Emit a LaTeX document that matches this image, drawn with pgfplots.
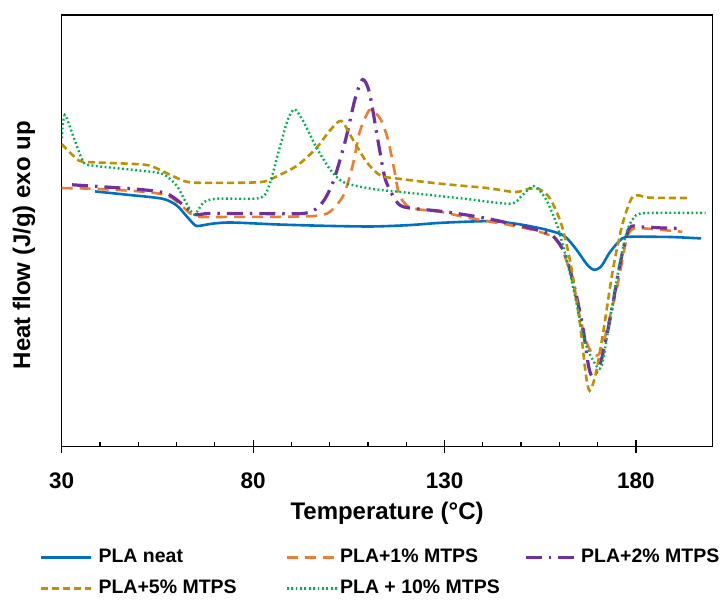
\documentclass[border=0pt]{standalone}
\usepackage{fontspec}
\setmainfont{Liberation Sans}
\usepackage{pgfplots}
\pgfplotsset{compat=1.18}
\definecolor{cblue}{HTML}{0070C0}
\definecolor{corange}{HTML}{ED7D31}
\definecolor{cpurple}{HTML}{7030A0}
\definecolor{cgold}{HTML}{BF9000}
\definecolor{cgreen}{HTML}{00B050}
\begin{document}
\begin{tikzpicture}
\begin{axis}[
  width=651pt, height=431.7pt, scale only axis,
  xmin=30, xmax=200, ymin=-1.1, ymax=129.3,
  xtick={30,80,130,180}, minor x tick num=4,
  ytick=\empty, xtick pos=bottom,
  tick align=inside, major tick length=13pt, minor tick length=5pt,
  major tick style={yshift=-6.5pt},
  every tick/.style={black, line width=1.2pt},
  axis line style={black, line width=1.6pt},
  /pgf/number format/assume math mode=true,
  xticklabel style={font=\fontsize{22.5}{26}\selectfont\bfseries, inner sep=0pt, anchor=north, yshift=-26pt},
  xlabel={Temperature (°C)},
  xlabel style={font=\fontsize{24}{28}\selectfont\bfseries, inner sep=0pt, at={(axis description cs:0.5,0)}, anchor=north, yshift=-55pt},
  ylabel={Heat flow (J/g) exo up},
  ylabel style={font=\fontsize{24}{28}\selectfont\bfseries, at={(axis description cs:-0.058,0.467)}, anchor=center},
  legend columns=3,
  legend cell align=left,
  legend style={draw=none, fill=none, at={(rel axis cs:0,0)}, anchor=north west,
    xshift=-21.7pt, yshift=-102pt, inner sep=0pt, outer sep=0pt,
    font=\fontsize{19.5}{23}\selectfont\bfseries, row sep=13pt, column sep=0pt,
    nodes={inner sep=0pt, text height=14pt, text depth=4pt}},
  legend image code/.code={\draw[#1] (0pt,0pt) -- (50pt,0pt);},
  smooth, tension=0.45,
]
\addplot[cblue, line width=2.6pt] coordinates {
(38.7,76.0)(47,75.0)(56.3,73.8)(60,71.8)(62.4,68.8)(64.8,65.8)(66,65.6)(69.7,66.3)(74.5,66.6)(86.6,66.0)(98.8,65.6)(110.9,65.4)(120.6,65.8)(129,66.5)(140,67.0)(144.8,66.8)(150.9,65.8)(157,64.3)(161.2,62.6)(164.2,58.8)(167.3,53.8)(169.1,52.3)(170.9,53.3)(173.3,57.8)(176.4,61.8)(178.8,62.3)(183.6,62.3)(189.7,62.2)(197,61.8)};
\addlegendentry{\makebox[193pt][l]{\hspace{6pt}PLA neat}}
\addplot[corange, line width=2.6pt, dash pattern=on 11pt off 7pt] coordinates {
(30,77.0)(38.1,76.8)(50.3,76.0)(57.5,74.8)(61.2,71.8)(63.6,69.3)(66,68.3)(74.5,68.3)(86.6,68.3)(96.3,68.6)(100,69.8)(103.6,74.8)(106,83.8)(107.8,93.8)(109.7,99.3)(110.9,100.8)(113.3,97.8)(115.2,91.8)(117,81.8)(118.2,74.8)(120.6,71.3)(123,70.6)(129.1,69.8)(135.1,68.3)(141.2,67.0)(147.2,65.8)(153.3,64.3)(158.2,62.3)(160.6,58.8)(163,50.8)(165.4,37.8)(167.3,29.8)(169.1,26.3)(170.9,27.8)(172.7,35.8)(175.2,47.8)(177.6,61.8)(179.4,64.8)(182.4,64.8)(187.3,64.3)(192.1,63.8)};
\addlegendentry{\makebox[186pt][l]{\hspace{2pt}PLA+1\% MTPS}}
\addplot[cpurple, line width=3.2pt, dash pattern=on 16pt off 7pt on 2.5pt off 7pt] coordinates {
(32.7,78.0)(50.3,76.6)(57.5,75.3)(62.4,71.3)(64.8,69.0)(68.4,69.3)(80.6,69.3)(92.7,69.3)(96.3,70.6)(98.8,73.8)(101.2,79.8)(104.2,91.8)(106.6,103.8)(108.6,109.8)(110.4,105.8)(112.7,90.8)(114.5,79.8)(117,73.8)(119.4,71.3)(129.1,70.0)(135.1,69.0)(141.2,67.8)(147.2,66.3)(153.3,64.6)(158.2,62.6)(161.2,57.8)(163.6,48.8)(166,35.8)(167.7,22.8)(168.9,20.0)(170.9,24.8)(173.3,37.8)(175.8,53.8)(178.2,64.8)(181.2,65.3)(186.1,65.0)(191.5,64.8)};
\addlegendentry{\hspace{4pt}PLA+2\% MTPS}
\addplot[cgold, line width=2.6pt, dash pattern=on 7pt off 4pt] coordinates {
(30,90.3)(34.5,85.3)(38.1,84.8)(51.5,84.1)(55.1,82.8)(58.7,80.8)(62.4,79.0)(66,78.6)(81.8,78.8)(86.6,80.8)(91.5,83.8)(96.3,88.8)(100,94.3)(103,97.3)(106,91.8)(109.7,84.8)(113.3,80.8)(118.2,79.8)(129.1,78.3)(141.2,77.0)(148.5,75.8)(152.1,76.8)(154.6,76.8)(157.6,73.8)(160.6,65.8)(163,53.8)(165.4,35.8)(166.9,20.8)(167.9,15.8)(169.5,20.8)(171.5,33.8)(173.9,51.8)(176.4,65.8)(178.8,73.8)(180.6,74.8)(183.6,74.1)(193.3,74.0)};
\addlegendentry{\makebox[193pt][l]{\hspace{6pt}PLA+5\% MTPS}}
\addplot[cgreen, line width=2.4pt, dash pattern=on 1.8pt off 2.6pt] coordinates {
(30,92.1)(30.8,99.1)(33.3,91.8)(35.7,84.8)(38.1,83.8)(50.3,82.3)(56.3,81.3)(60,77.8)(62.4,72.8)(64.6,69.0)(67.2,72.8)(70.9,73.8)(81.8,74.0)(84.2,77.8)(86.6,87.8)(89.1,97.8)(90.9,100.8)(93.3,96.8)(96.3,89.8)(100,82.8)(103.6,78.8)(110.9,76.8)(123,75.3)(135.1,73.8)(147.2,72.3)(150.3,74.8)(153.3,77.6)(156.4,73.8)(159.4,65.8)(161.8,55.8)(164.2,43.8)(166.6,30.8)(169.1,24.3)(170.9,22.8)(172.7,33.8)(175.2,50.8)(177.6,63.8)(180,68.8)(183.6,69.5)(198.2,69.5)};
\addlegendentry{\hspace{2pt}PLA + 10\% MTPS}
\coordinate (BL) at (rel axis cs:0,0);
\coordinate (TR) at (rel axis cs:1,1);
\end{axis}
\path (BL) ++(-61.7pt,-158.3pt) coordinate (bba);
\path (TR) ++(15.5pt,15pt) coordinate (bbb);
\path (bba) rectangle (bbb);
\end{tikzpicture}
\end{document}
